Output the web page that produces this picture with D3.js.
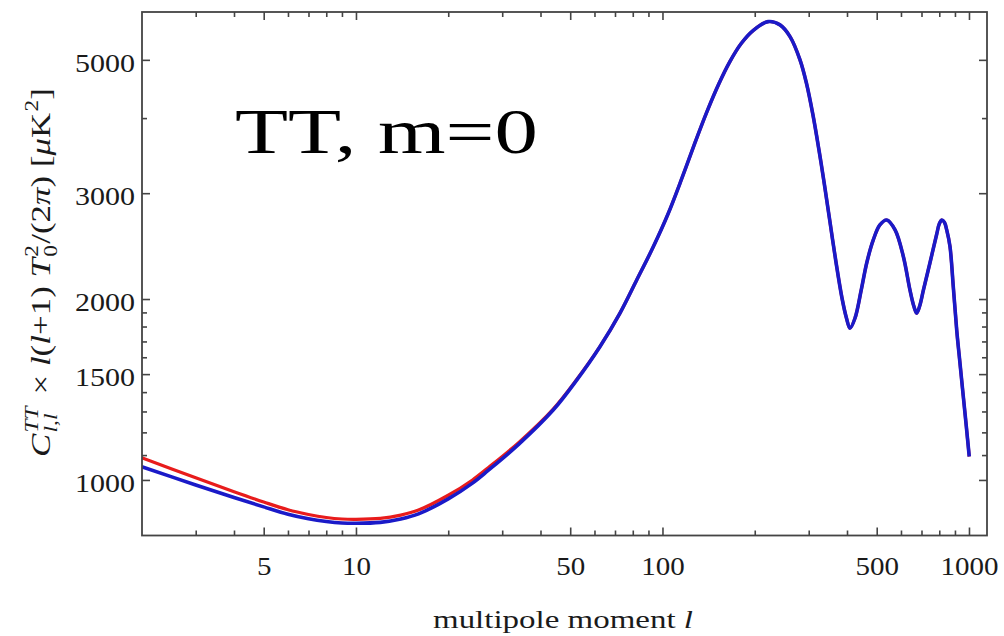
<!DOCTYPE html>
<html>
<head>
<meta charset="utf-8">
<script src="https://cdn.jsdelivr.net/npm/d3@7"></script>
<style>
  html, body { margin: 0; padding: 0; background: #fff; }
  svg { display: block; }
</style>
</head>
<body>
<svg id="chart" width="1004" height="636"></svg>
<script>
// ---- data ----
const ell = [2, 3, 4, 5, 6, 7, 8, 9, 10, 12, 14, 16, 20, 24, 27, 34, 44,
  52.5, 62.5, 72.6, 82.4, 93.4, 104.5, 115.8, 127.6, 139.7, 152.9, 166.1, 180.4, 197.4,
  221, 241.8, 261, 281, 295, 309.7, 324, 337.7, 352, 368.1, 385.1, 398.3,
  409, 425, 445, 464, 487, 512, 539, 574, 611, 642, 661, 675, 690, 710,
  746, 785, 800, 815, 832, 846, 867, 889, 912, 934.5, 958, 980, 1002];
const blueVals = [1052, 981, 935, 902, 877, 862, 853, 848, 847, 850, 861, 878, 930, 988, 1037, 1147, 1307,
  1466, 1666, 1893, 2151, 2445, 2778, 3180, 3638, 4101, 4567, 4971, 5318, 5592,
  5788, 5717, 5461, 5000, 4571, 4049, 3541, 3097, 2687, 2306, 2009, 1860,
  1788, 1860, 2069, 2298, 2506, 2656, 2707, 2606, 2352, 2069, 1945, 1895, 1945, 2069,
  2298, 2566, 2667, 2707, 2682, 2606, 2445, 2094, 1776, 1565, 1379, 1229, 1094];
const redVals = [1089, 1008, 956, 919, 892, 876, 866, 861, 860, 863, 874, 891, 943, 1000, 1048, 1155, 1312,
  1469, 1666, 1893, 2151, 2445, 2778, 3180, 3638, 4101, 4567, 4971, 5318, 5592,
  5788, 5717, 5461, 5000, 4571, 4049, 3541, 3097, 2687, 2306, 2009, 1860,
  1788, 1860, 2069, 2298, 2506, 2656, 2707, 2606, 2352, 2069, 1945, 1895, 1945, 2069,
  2298, 2566, 2667, 2707, 2682, 2606, 2445, 2094, 1776, 1565, 1379, 1229, 1094];
const xMajor = [5, 10, 50, 100, 500, 1000];
const xMinor = [3, 4, 6, 7, 8, 9, 20, 30, 40, 60, 70, 80, 90, 200, 300, 400, 600, 700, 800, 900];
const yMajor = [1000, 1500, 2000, 3000, 5000];
const yMinor = [1100, 1200, 1300, 1400, 1600, 1700, 1800, 1900, 4000];
const xTitle = "multipole moment ";
const panelLabel = "TT, m=0";

// ---- layout ----
const L = 142, R = 987, T = 12, B = 535.5;
const svg = d3.select("#chart");
const x = d3.scaleLog().domain([2.004, 1145]).range([L, R]);
const y = d3.scaleLog().domain([808.3, 6006]).range([B, T]);
const serif = "'Liberation Serif', 'Times New Roman', serif";
const frameCol = "#444";

// curves
const line = (vals) => d3.line()
  .x((d, i) => x(ell[i]))
  .y((d) => y(d))
  .curve(d3.curveCatmullRom.alpha(0.5))(vals);

svg.append("clipPath").attr("id", "clip")
  .append("rect").attr("x", L).attr("y", T).attr("width", R - L).attr("height", B - T);

const plot = svg.append("g").attr("clip-path", "url(#clip)");
plot.append("path").attr("d", line(redVals)).attr("fill", "none")
  .attr("stroke", "#e81c1c").attr("stroke-width", 3.2).attr("stroke-linejoin", "round");
plot.append("path").attr("d", line(blueVals)).attr("fill", "none")
  .attr("stroke", "#1a1ac8").attr("stroke-width", 3.6).attr("stroke-linejoin", "round");

// axes (ticks inside on all four sides)
function ax(gen, tr, vals, size, labels) {
  const g = svg.append("g").attr("transform", tr)
    .call(gen.tickValues(vals).tickSizeInner(-size).tickSizeOuter(0)
      .tickFormat(labels ? d3.format("d") : () => ""));
  g.select(".domain").remove();
  g.selectAll(".tick line").attr("stroke", frameCol).attr("stroke-width", 1.6);
  return g;
}
const gxb = ax(d3.axisBottom(x).tickPadding(21), `translate(0,${B})`, xMajor, 8, true);
ax(d3.axisBottom(x), `translate(0,${B})`, xMinor, 5, false);
ax(d3.axisTop(x), `translate(0,${T})`, xMajor, 8, false);
ax(d3.axisTop(x), `translate(0,${T})`, xMinor, 5, false);
const gyl = ax(d3.axisLeft(y).tickPadding(7), `translate(${L},0)`, yMajor, 8, true);
ax(d3.axisLeft(y), `translate(${L},0)`, yMinor, 5, false);
ax(d3.axisRight(y), `translate(${R},0)`, yMajor, 8, false);
ax(d3.axisRight(y), `translate(${R},0)`, yMinor, 5, false);

gxb.selectAll(".tick text")
  .attr("font-family", serif).attr("font-size", 26).attr("fill", "#1a1a1a")
  .each(function () { const n = this.textContent.length; d3.select(this).attr("textLength", 14.5 * n).attr("lengthAdjust", "spacingAndGlyphs"); });
gyl.selectAll(".tick text")
  .attr("font-family", serif).attr("font-size", 26).attr("fill", "#1a1a1a").attr("dy", "0.43em")
  .each(function () { const n = this.textContent.length; d3.select(this).attr("textLength", 15 * n).attr("lengthAdjust", "spacingAndGlyphs"); });

// frame
svg.append("rect").attr("x", L).attr("y", T).attr("width", R - L).attr("height", B - T)
  .attr("fill", "none").attr("stroke", frameCol).attr("stroke-width", 1.8);

// x title
const xt = svg.append("text").attr("x", 433).attr("y", 628)
  .attr("font-family", serif).attr("font-size", 25).attr("fill", "#1a1a1a")
  .attr("textLength", 260).attr("lengthAdjust", "spacingAndGlyphs");
xt.append("tspan").text(xTitle);
xt.append("tspan").attr("font-style", "italic").text("l");

// y title (rotated)
const yg = svg.append("g").attr("transform", "translate(50,457) rotate(-90)");
const yin = yg.append("g");
const yt = yin.append("text").attr("font-family", serif).attr("font-size", 27).attr("fill", "#1a1a1a");
const segs = [
  ["C", true, 0, 27, 0],
  ["TT", true, -12, 18, 1],
  ["l,l", true, 7, 18, -20],
  ["\u00A0\u00D7\u00A0", false, 0, 27, 8],
  ["l", true, 0, 27, 0],
  ["(", false, 0, 27, 0],
  ["l", true, 0, 27, 0],
  ["+1)\u00A0", false, 0, 27, 0],
  ["T", true, 0, 27, 0],
  ["2", false, -12, 18, 1],
  ["0", false, 7, 18, -9],
  ["/(2", false, 0, 27, 1],
  ["\u03C0", true, 0, 27, 0],
  [")\u00A0[", false, 0, 27, 0],
  ["\u03BC", true, 0, 27, 0],
  ["K", false, 0, 27, 0],
  ["2", false, -12, 18, 1],
  ["]", false, 0, 27, 0]
];
let prevShift = 0;
segs.forEach(([t, it, shift, fs, dx]) => {
  yt.append("tspan").text(t)
    .attr("font-style", it ? "italic" : "normal")
    .attr("font-size", fs)
    .attr("dy", shift - prevShift)
    .attr("dx", dx);
  prevShift = shift;
});
const bw = yt.node().getBBox().width;
yin.attr("transform", `scale(${369 / bw},1)`);

// panel label
svg.append("text").attr("x", 235).attr("y", 153.3)
  .attr("font-family", serif).attr("font-size", 64).attr("fill", "#000")
  .attr("textLength", 303).attr("lengthAdjust", "spacingAndGlyphs")
  .text(panelLabel);
</script>
</body>
</html>
